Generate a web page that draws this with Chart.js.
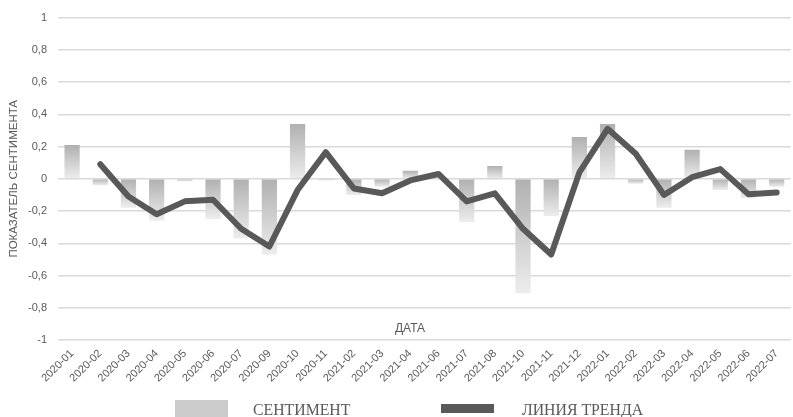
<!DOCTYPE html>
<html lang="ru">
<head>
<meta charset="utf-8">
<script src="https://cdn.jsdelivr.net/npm/chart.js@4"></script>
<style>
  html, body { margin: 0; padding: 0; background: #fff; }
  #wrap { position: relative; width: 793px; height: 417px; overflow: hidden; }
  #legend { position: absolute; left: 0; top: 0; width: 793px; height: 417px; pointer-events: none; }
  .box { position: absolute; }
  .lbl { position: absolute; font-family: "Liberation Serif", "DejaVu Serif", serif; font-size: 15.8px; color: #595959; white-space: nowrap; line-height: 1; }
</style>
</head>
<body>
<div id="wrap">
  <canvas id="chart" width="793" height="417"></canvas>
  <div id="legend">
    <div class="box" style="left:175px; top:400px; width:53px; height:17px; background:#cccccc;"></div>
    <div class="lbl" style="left:253px; top:402px;">СЕНТИМЕНТ</div>
    <div class="box" style="left:441px; top:404px; width:53px; height:9px; background:#595959;"></div>
    <div class="lbl" style="left:522px; top:402px;">ЛИНИЯ ТРЕНДА</div>
  </div>
</div>
<script>
// Categories (months)
const months = [
  '2020-01', '2020-02', '2020-03', '2020-04', '2020-05', '2020-06', '2020-07',
  '2020-09', '2020-10', '2020-11', '2021-02', '2021-03', '2021-04', '2021-06',
  '2021-07', '2021-08', '2021-10', '2021-11', '2021-12', '2022-01', '2022-02',
  '2022-03', '2022-04', '2022-05', '2022-06', '2022-07'
];

// Sentiment per month (bars)
const sentiment = [
  0.21, -0.04, -0.18, -0.26, -0.015, -0.25, -0.37,
  -0.47, 0.34, -0.01, -0.10, -0.05, 0.05, 0.005,
  -0.27, 0.08, -0.71, -0.23, 0.26, 0.34, -0.03,
  -0.18, 0.18, -0.07, -0.12, -0.05
];

// Trend line (no value for the first month)
const trend = [
  null, 0.09, -0.11, -0.22, -0.14, -0.13, -0.31,
  -0.42, -0.07, 0.165, -0.06, -0.09, -0.01, 0.03,
  -0.14, -0.09, -0.31, -0.47, 0.04, 0.31, 0.155,
  -0.10, 0.01, 0.06, -0.096, -0.085
];

// Y tick labels, from -1 to 1
const yTickLabels = ['-1', '-0,8', '-0,6', '-0,4', '-0,2', '0', '0,2', '0,4', '0,6', '0,8', '1'];

const TEXT_GRAY = '#595959';
const GRID_GRAY = '#d9d9d9';

// vertical gradient for each bar: darker at top, lighter at bottom
function barGradient(c) {
  const chart = c.chart;
  const y = chart.scales.y;
  if (c.type !== 'data' || !y) return '#cccccc';
  const v = c.raw;
  const top = y.getPixelForValue(Math.max(v, 0));
  const bot = y.getPixelForValue(Math.min(v, 0));
  if (!isFinite(top) || !isFinite(bot) || top === bot) return '#cccccc';
  const g = chart.ctx.createLinearGradient(0, top, 0, bot);
  g.addColorStop(0, '#b0b0b0');
  g.addColorStop(1, '#ededed');
  return g;
}

// "ДАТА" label sits inside the plot just above the -1 line
const axisTitlePlugin = {
  id: 'axisTitle',
  afterDraw(chart) {
    const ctx = chart.ctx;
    const area = chart.chartArea;
    ctx.save();
    ctx.font = '12px "Liberation Sans", Arial, sans-serif';
    ctx.fillStyle = TEXT_GRAY;
    ctx.textAlign = 'center';
    ctx.textBaseline = 'middle';
    ctx.fillText('ДАТА', 410, area.bottom - 11);
    ctx.restore();
  }
};

const ctx = document.getElementById('chart').getContext('2d');
new Chart(ctx, {
  data: {
    labels: months,
    datasets: [
      {
        type: 'line',
        label: 'ЛИНИЯ ТРЕНДА',
        data: trend,
        borderColor: '#595959',
        borderWidth: 6,
        borderCapStyle: 'round',
        borderJoinStyle: 'round',
        pointRadius: 0,
        tension: 0,
        order: 0
      },
      {
        type: 'bar',
        label: 'СЕНТИМЕНТ',
        data: sentiment,
        backgroundColor: barGradient,
        borderWidth: 0,
        categoryPercentage: 1,
        barPercentage: 0.54,
        order: 1
      }
    ]
  },
  options: {
    responsive: false,
    animation: false,
    layout: { padding: { top: 14, right: 0, bottom: 30, left: 0 } },
    plugins: {
      legend: { display: false },
      tooltip: { enabled: false }
    },
    scales: {
      x: {
        offset: true,
        grid: { display: false, drawTicks: false },
        border: { display: false },
        ticks: {
          autoSkip: false,
          minRotation: 45,
          maxRotation: 45,
          padding: 7,
          color: TEXT_GRAY,
          font: { family: '"Liberation Sans", Arial, sans-serif', size: 11 }
        },
        afterFit(scale) { scale.height = 47; }
      },
      y: {
        min: -1,
        max: 1,
        grid: { color: GRID_GRAY, lineWidth: 1.5, drawTicks: false },
        border: { display: false },
        ticks: {
          stepSize: 0.2,
          padding: 11,
          color: TEXT_GRAY,
          font: { family: '"Liberation Sans", Arial, sans-serif', size: 11 },
          callback: function (value) {
            const i = Math.round((value + 1) * 5);
            return yTickLabels[i];
          }
        },
        title: {
          display: true,
          text: 'ПОКАЗАТЕЛЬ СЕНТИМЕНТА',
          color: TEXT_GRAY,
          font: { family: '"Liberation Sans", Arial, sans-serif', size: 11.5 },
          padding: { top: 7, bottom: 0 }
        },
        afterFit(scale) { scale.width = 58; }
      }
    }
  },
  plugins: [axisTitlePlugin]
});
</script>
</body>
</html>
